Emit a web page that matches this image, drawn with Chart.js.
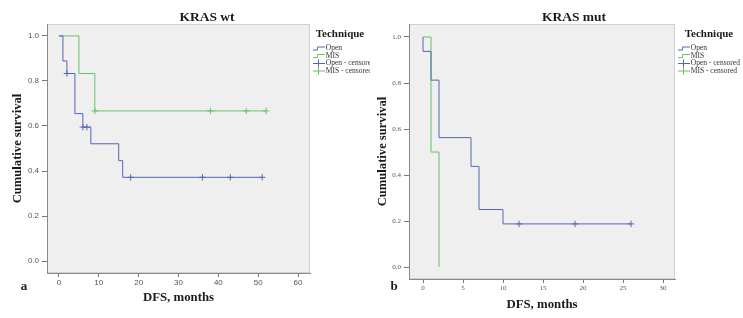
<!DOCTYPE html>
<html>
<head>
<meta charset="utf-8">
<script src="https://cdn.jsdelivr.net/npm/chart.js@4.4.1/dist/chart.umd.min.js"></script>
<style>
    body { margin: 0; background: #fff; }
    #wrap { position: relative; width: 743px; height: 318px; overflow: hidden; }
    canvas { position: absolute; top: 0; }
    .lbl { position: absolute; font-family: "Liberation Serif", serif; font-weight: bold; color: #1a1a1a; transform: translate(-50%, -50%); white-space: nowrap; }
</style>
</head>
<body>
<div id="wrap">
    <canvas id="wtChart" width="370" height="318" style="left:0"></canvas>
    <canvas id="mutChart" width="371" height="318" style="left:372px"></canvas>
    <div class="lbl" style="left:207px; top:17px; font-size:13.5px">KRAS wt</div>
    <div class="lbl" style="left:574px; top:17px; font-size:13.5px">KRAS mut</div>
    <div class="lbl" style="left:24px; top:286px; font-size:13px">a</div>
    <div class="lbl" style="left:394px; top:286px; font-size:13px">b</div>
</div>
<script>
// KRAS wt - Kaplan-Meier steps
const wtOpenTime = [0, 1, 2, 4, 6, 8, 15, 16, 51];
const wtOpenSurv = [1.0, 0.889, 0.833, 0.655, 0.595, 0.521, 0.446, 0.372, 0.372];
const wtOpenCensTime = [2, 6, 7, 18, 36, 43, 51];
const wtOpenCensSurv = [0.833, 0.595, 0.595, 0.372, 0.372, 0.372, 0.372];
const wtMisTime = [0, 5, 9, 52];
const wtMisSurv = [1.0, 0.833, 0.667, 0.667];
const wtMisCensTime = [9, 38, 47, 52];
const wtMisCensSurv = [0.667, 0.667, 0.667, 0.667];

// KRAS mut
const mutOpenTime = [0, 0, 1, 2, 6, 7, 10, 26];
const mutOpenSurv = [1.0, 0.9375, 0.8125, 0.5625, 0.4375, 0.25, 0.1875, 0.1875];
const mutOpenCensTime = [12, 19, 26];
const mutOpenCensSurv = [0.1875, 0.1875, 0.1875];
const mutMisTime = [0, 1, 2];
const mutMisSurv = [1.0, 0.5, 0.0];

const wtXTicks = [0, 10, 20, 30, 40, 50, 60];
const mutXTicks = [0, 5, 10, 15, 20, 25, 30];
const yTicks = [0.0, 0.2, 0.4, 0.6, 0.8, 1.0];
const legendLabels = ['Open', 'MIS', 'Open - censored', 'MIS - censored'];

const blue = '#5566b0';
const green = '#66c266';

function pts(xs, ys) {
    return xs.map((x, i) => ({x: x, y: ys[i]}));
}

// small legend icons, drawn with some blank space on the left
function stepIcon(color) {
    let c = document.createElement('canvas');
    c.width = 18; c.height = 8;
    let g = c.getContext('2d');
    g.strokeStyle = color;
    g.lineWidth = 1;
    g.beginPath();
    g.moveTo(6, 5.5); g.lineTo(10.5, 5.5); g.lineTo(10.5, 2.5); g.lineTo(18, 2.5);
    g.stroke();
    return c;
}
function crossIcon(color) {
    let c = document.createElement('canvas');
    c.width = 18; c.height = 9;
    let g = c.getContext('2d');
    g.strokeStyle = color;
    g.lineWidth = 1;
    g.beginPath();
    g.moveTo(6, 4.5); g.lineTo(18, 4.5);
    g.moveTo(11.5, 0.5); g.lineTo(11.5, 8.5);
    g.stroke();
    return c;
}

const plotBg = {
    id: 'plotBg',
    beforeDraw(chart) {
        const {ctx, chartArea: a} = chart;
        ctx.save();
        ctx.fillStyle = '#efefef';
        ctx.fillRect(a.left, a.top, a.right - a.left, a.bottom - a.top);
        ctx.strokeStyle = '#d0d0d0';
        ctx.lineWidth = 1;
        ctx.strokeRect(a.left + 0.5, a.top + 0.5, a.right - a.left - 1, a.bottom - a.top - 1);
        ctx.restore();
    }
};

function survChart(id, sets, cfg) {
    let datasets = [];
    sets.forEach(s => {
        if (s.cens) {
            datasets.push({
                label: s.label, data: s.data, showLine: false,
                pointStyle: 'cross', pointRadius: 3.2, borderColor: s.color, borderWidth: 1
            });
        } else {
            datasets.push({
                label: s.label, data: s.data, stepped: true, fill: false,
                borderColor: s.color, borderWidth: 1, pointRadius: 0
            });
        }
    });
    let icons = [stepIcon(blue), stepIcon(green), crossIcon(blue), crossIcon(green)];
    let tickFont = cfg.tickFont;
    let ctx = document.getElementById(id).getContext('2d');
    return new Chart(ctx, {
        type: 'line',
        data: {datasets: datasets},
        plugins: [plotBg],
        options: {
            responsive: false,
            animation: false,
            devicePixelRatio: 1,
            layout: {padding: {top: 24, left: 0, right: 0, bottom: 0}},
            plugins: {
                tooltip: {enabled: false},
                legend: {
                    position: 'right',
                    align: 'start',
                    maxWidth: cfg.legendWidth,
                    title: {
                        display: true, text: 'Technique', position: 'center',
                        color: '#1a1a1a',
                        font: {family: 'Liberation Serif', size: 11, weight: 'bold'},
                        padding: {top: 4.5, bottom: 3}
                    },
                    labels: {
                        usePointStyle: true,
                        pointStyleWidth: 12,
                        padding: 0,
                        color: '#333',
                        font: {family: 'Liberation Serif', size: 7.5},
                        generateLabels: () => legendLabels.map((t, i) => ({
                            text: t, pointStyle: icons[i], lineWidth: 0,
                            fillStyle: 'transparent', strokeStyle: 'transparent',
                            fontColor: '#333', hidden: false, datasetIndex: i
                        }))
                    }
                }
            },
            scales: {
                x: {
                    type: 'linear', min: cfg.xMin, max: cfg.xMax,
                    afterBuildTicks: s => { s.ticks = cfg.xTicks.map(v => ({value: v})); },
                    afterFit: s => { s.height = cfg.xHeight; },
                    ticks: {font: tickFont, color: '#555', padding: cfg.xTickPad, maxRotation: 0, autoSkip: false},
                    grid: {drawOnChartArea: false, drawTicks: true, tickLength: 4, color: '#777'},
                    border: {color: '#8a8a8a'},
                    title: {
                        display: true, text: 'DFS, months', color: '#1a1a1a',
                        font: {family: 'Liberation Serif', size: 12.8, weight: 'bold'},
                        padding: {top: 0, bottom: cfg.xTitlePad}
                    }
                },
                y: {
                    type: 'linear', min: cfg.yMin, max: cfg.yMax,
                    afterBuildTicks: s => { s.ticks = yTicks.map(v => ({value: v})); },
                    afterFit: s => { s.width = cfg.yWidth; },
                    ticks: {font: tickFont, color: '#555', padding: 3, callback: v => v.toFixed(1)},
                    grid: {drawOnChartArea: false, drawTicks: true, tickLength: 5, color: '#777'},
                    border: {color: '#8a8a8a'},
                    title: {
                        display: true, text: 'Cumulative survival', color: '#1a1a1a',
                        font: {family: 'Liberation Serif', size: 12.6, weight: 'bold'},
                        padding: {top: cfg.yTitlePad, bottom: 0}
                    }
                }
            }
        }
    });
}

survChart('wtChart', [
    {label: 'Open', color: blue, data: pts(wtOpenTime, wtOpenSurv)},
    {label: 'MIS', color: green, data: pts(wtMisTime, wtMisSurv)},
    {label: 'Open - censored', color: blue, cens: true, data: pts(wtOpenCensTime, wtOpenCensSurv)},
    {label: 'MIS - censored', color: green, cens: true, data: pts(wtMisCensTime, wtMisCensSurv)}
], {
    xMin: -3, xMax: 63, xTicks: wtXTicks, yMin: -0.053, yMax: 1.053,
    xHeight: 45, yWidth: 47, xTickPad: 1, xTitlePad: 12.4, yTitlePad: 10.4,
    legendWidth: 60,
    tickFont: {family: 'Liberation Sans', size: 8}
});

survChart('mutChart', [
    {label: 'Open', color: blue, data: pts(mutOpenTime, mutOpenSurv)},
    {label: 'MIS', color: green, data: pts(mutMisTime, mutMisSurv)},
    {label: 'Open - censored', color: blue, cens: true, data: pts(mutOpenCensTime, mutOpenCensSurv)}
], {
    xMin: -1.75, xMax: 31.5, xTicks: mutXTicks, yMin: -0.052, yMax: 1.0565,
    xHeight: 39, yWidth: 37, xTickPad: 1, xTitlePad: 5.3, yTitlePad: 3.4,
    legendWidth: 68,
    tickFont: {family: 'Liberation Serif', size: 7}
});
</script>
</body>
</html>
